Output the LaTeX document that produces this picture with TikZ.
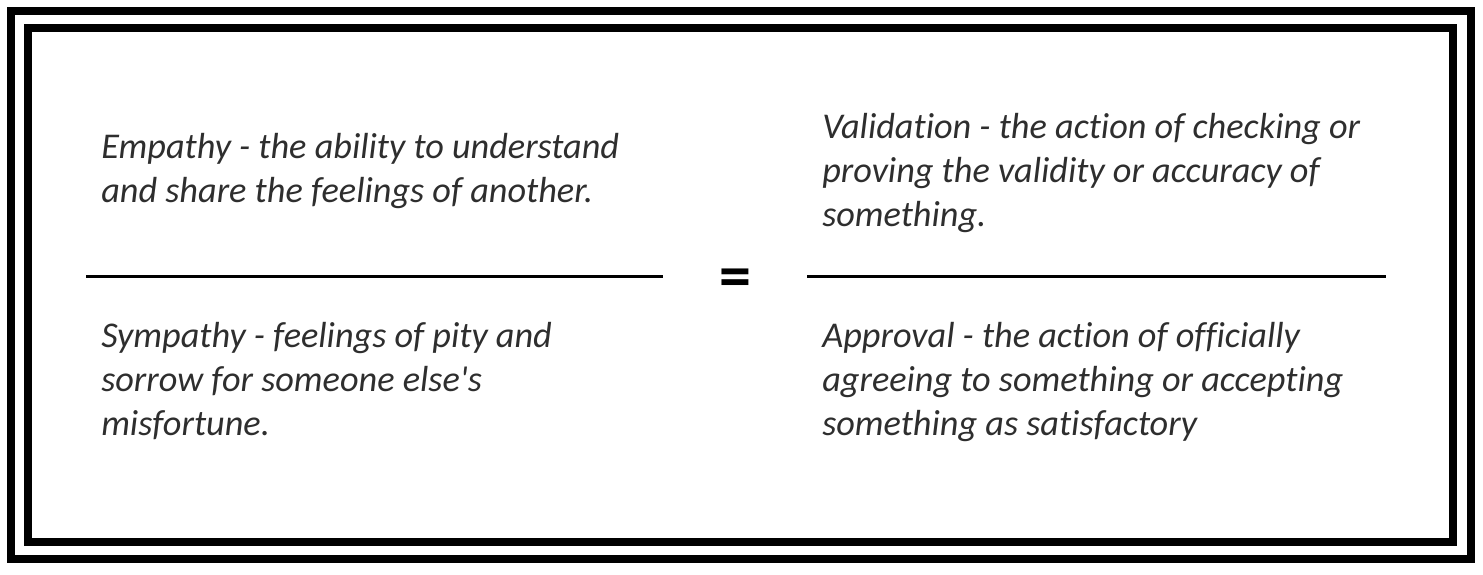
\documentclass[tikz,border=0pt]{standalone}
\usepackage{fontspec}
\setmainfont{Carlito}[Ligatures={NoCommon,NoContextual}]
\usetikzlibrary{positioning}

\begin{document}
\begin{tikzpicture}[x=0.75pt,y=-0.75pt]
	\tikzset{
		frame/.style = {draw=black, line width=6pt, line join=miter},
		deftext/.style = {font={\fontsize{27.2}{33}\selectfont\itshape}, text=black!82, align=left, anchor=base west, inner sep=0pt},
		divider/.style = {draw=black, line width=2.2pt},
		eqsign/.style = {font={\fontsize{48}{48}\selectfont\bfseries}, inner sep=0pt},
	}
	\useasboundingbox (0,0) rectangle (1483,574);

	% double frame
	\draw[frame] (11,11) rectangle (1471,559);
	\draw[frame] (28,28) rectangle (1453,542);

	% definitions (placed at the baseline of their last line)
	\node[deftext] (empathy) at (101,202) {Empathy - the ability to understand\\and share the feelings of another.};
	\node[deftext] (sympathy) at (101,435) {Sympathy - feelings of pity and\\sorrow for someone else\textquotesingle s\\misfortune.};
	\node[deftext] (validation) at (822,226) {Validation - the action of checking or\\proving the validity or accuracy of\\something.};
	\node[deftext] (approval) at (822,435) {Approval - the action of officially\\agreeing to something or accepting\\something as satisfactory};

	% fraction bars and equals sign
	\node[eqsign] (equals) at (735,283) {=};
	\coordinate (leftstart) at (86,276.5);
	\coordinate[left=54pt of equals.center |- leftstart] (leftend);
	\coordinate[right=54pt of equals.center |- leftstart] (rightstart);
	\coordinate (rightend) at (1386,276.5);
	\draw[divider] (leftstart) -- (leftend);
	\draw[divider] (rightstart) -- (rightend);
\end{tikzpicture}
\end{document}
